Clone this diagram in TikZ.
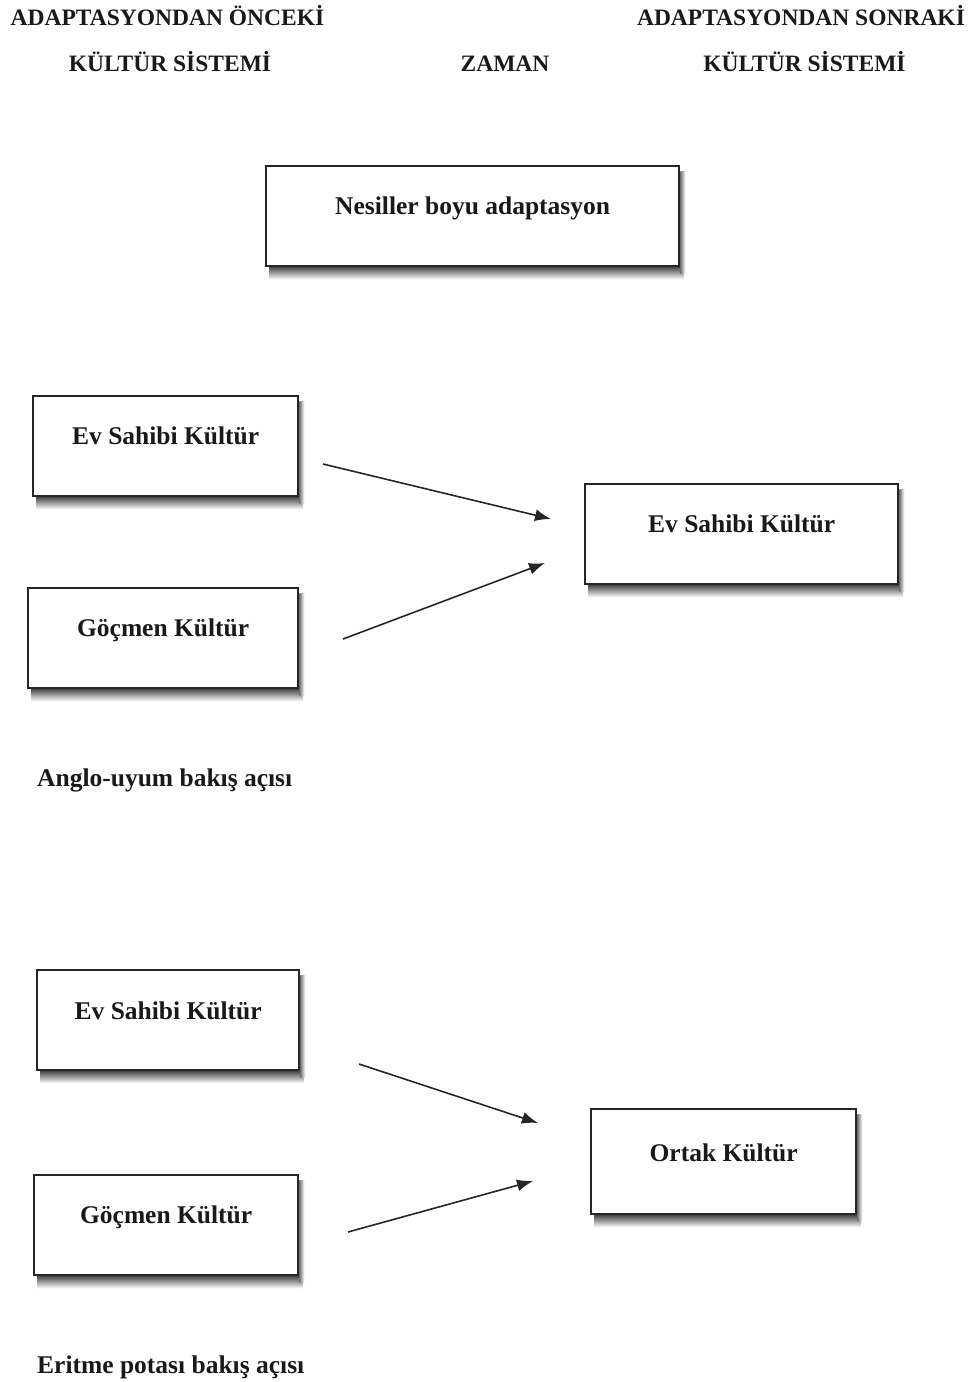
\documentclass[tikz,border=0pt]{standalone}
\usepackage{fontspec}
\setmainfont{Liberation Serif}
\usetikzlibrary{arrows.meta}
\pgfdeclarelayer{bg}
\pgfsetlayers{bg,main}
\begin{document}
\begin{tikzpicture}[x=1pt,y=-1pt,
  cbox/.style={draw=black!85,line width=2.3pt,fill=white,inner sep=0pt,anchor=north west,
    text height=48.5pt,text depth=51.5pt,font=\bfseries\fontsize{25.5}{30}\selectfont,text=black!90},
  head/.style={anchor=base,inner sep=0pt,font=\bfseries\fontsize{23.5}{28}\selectfont,text=black!90},
  lab/.style={anchor=base west,inner sep=0pt,font=\bfseries\fontsize{25.5}{30}\selectfont,text=black!90},
  arr/.style={line width=1.6pt,draw=black!85,-{Latex[length=16pt,width=12pt]}}]
\useasboundingbox (0,0) rectangle (974,1382);
% headers
\node[head] (h1) at (167.5,25) {ADAPTASYONDAN ÖNCEKİ};
\node[head] (h2) at (170,71) {KÜLTÜR SİSTEMİ};
\node[head] (h3) at (505,71) {ZAMAN};
\node[head] (h4) at (801,25) {ADAPTASYONDAN SONRAKİ};
\node[head] (h5) at (804.5,71) {KÜLTÜR SİSTEMİ};
% boxes
\node[cbox,minimum width=413pt] (nes) at (265,165) {Nesiller boyu adaptasyon};
\node[cbox,minimum width=265pt] (ev1) at (32,395) {Ev Sahibi Kültür};
\node[cbox,minimum width=270pt] (go1) at (27,587) {Göçmen Kültür};
\node[cbox,minimum width=313pt] (evR) at (584,483) {Ev Sahibi Kültür};
\node[cbox,minimum width=262pt,text height=49.5pt,text depth=50.5pt] (ev2) at (36,969) {Ev Sahibi Kültür};
\node[cbox,minimum width=264pt] (go2) at (33,1174) {Göçmen Kültür};
\node[cbox,minimum width=265pt,text height=52pt,text depth=53pt] (ort) at (590,1108) {Ortak Kültür};
% labels
\node[lab] (l1) at (37,786) {Anglo-uyum bakış açısı};
\node[lab] (l2) at (37,1373) {Eritme potası bakış açısı};
% shadows
\begin{pgfonlayer}{bg}
\foreach \n in {nes,ev1,go1,evR,ev2,go2,ort}{
  \shade[top color=black!70,bottom color=white]
    ([xshift=4pt]\n.south west) rectangle ([xshift=3pt,yshift=-12pt]\n.south east);
  \shade[left color=black!55,right color=white]
    ([yshift=-6pt]\n.north east) rectangle ([xshift=5pt,yshift=-6pt]\n.south east);
}
\end{pgfonlayer}
% arrows
\coordinate (a1s) at (323,464); \coordinate (a1e) at (551,519);
\coordinate (a2s) at (343,639); \coordinate (a2e) at (545,563);
\coordinate (a3s) at (359,1064); \coordinate (a3e) at (538,1123);
\coordinate (a4s) at (348,1232); \coordinate (a4e) at (533,1181);
\draw[arr] (a1s) -- (a1e);
\draw[arr] (a2s) -- (a2e);
\draw[arr] (a3s) -- (a3e);
\draw[arr] (a4s) -- (a4e);
\end{tikzpicture}
\end{document}
